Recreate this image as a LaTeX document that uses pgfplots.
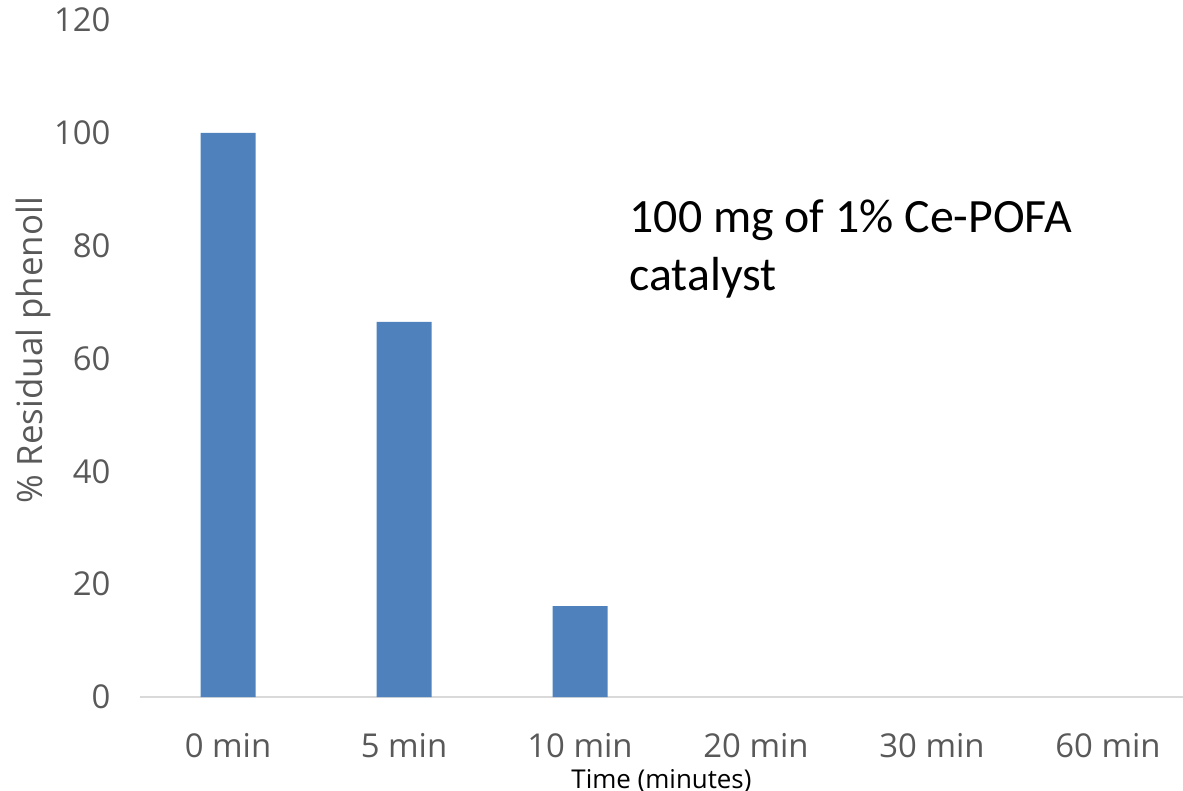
\documentclass[border=0pt]{standalone}
\usepackage{pgfplots}
\pgfplotsset{compat=1.18}
\usepackage{fontspec}
\setmainfont{Open Sans}
\newfontfamily\calfont{Carlito}
\definecolor{barblue}{HTML}{4F81BD}
\definecolor{tickgray}{HTML}{595959}
\definecolor{axgray}{HTML}{D9D9D9}
\begin{document}
\begin{tikzpicture}
\clip (-140bp,-94bp) rectangle (1043bp,697bp);
\begin{axis}[
  at={(0,0)}, anchor=south west,
  scale only axis,
  width=1043bp, height=677bp,
  xmin=-0.5, xmax=5.426,
  ymin=0, ymax=120,
  ytick={0,20,...,120},
  xtick={0,1,2,3,4,5},
  xticklabels={0 min,5 min,10 min,20 min,30 min,60 min},
  axis y line*=left,
  y axis line style={draw=none},
  axis x line*=bottom,
  x axis line style={draw=axgray, line width=1.5bp, -},
  major tick length=0pt,
  tick style={draw=none},
  /pgf/number format/assume math mode=true,
  ticklabel style={font=\fontsize{33}{38}\selectfont, text=tickgray},
  xticklabel style={yshift=-33bp},
  yticklabel style={xshift=-26bp},
  ybar, bar width=55bp,
  clip=false,
  ylabel={\% Residual phenoll},
  ylabel style={font=\fontsize{35}{40}\selectfont, text=tickgray, yshift=-4bp, xshift=8bp},
  xlabel={Time (minutes)},
  xlabel style={font=\fontsize{26}{30}\selectfont, text=black, yshift=-5bp},
]
\addplot[fill=barblue, draw=none] coordinates {(0,100) (1,66.5) (2,16.1)};
\node[anchor=base west, font=\calfont\fontsize{48}{54}\selectfont] at (axis cs:2.262,82.4) {100 mg of 1\% Ce-POFA};
\node[anchor=base west, font=\calfont\fontsize{48}{54}\selectfont] at (axis cs:2.262,72.0) {catalyst};
\end{axis}
\end{tikzpicture}
\end{document}
